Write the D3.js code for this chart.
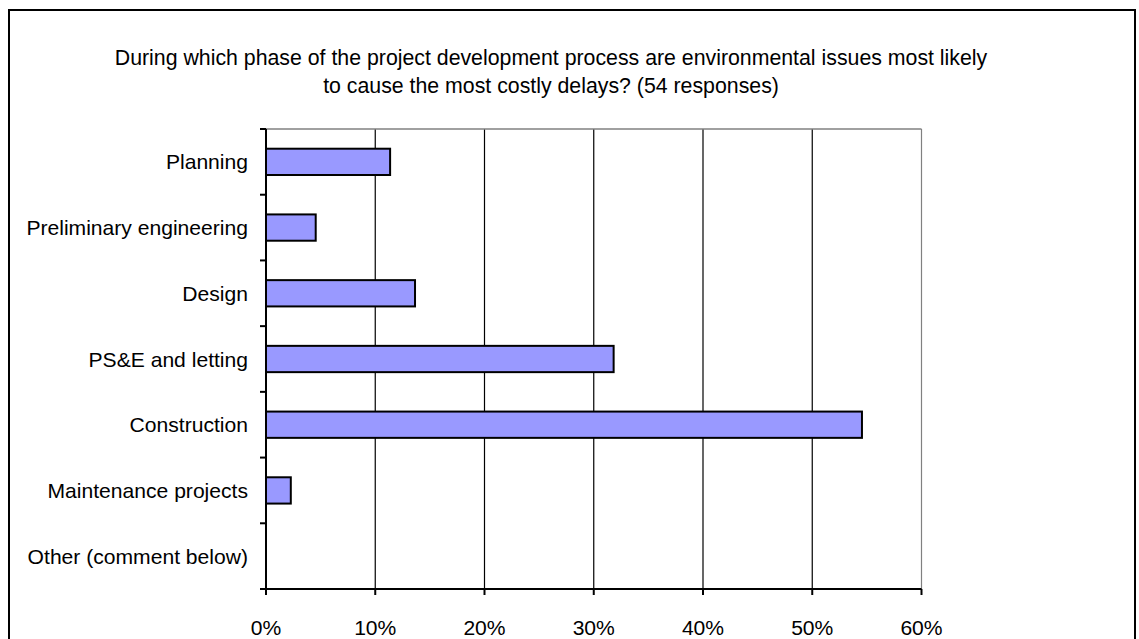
<!DOCTYPE html>
<html>
<head>
<meta charset="utf-8">
<script src="https://cdn.jsdelivr.net/npm/d3@7"></script>
<style>
  body { margin: 0; background: #fff; }
  svg { display: block; font-family: "Liberation Sans", Arial, sans-serif; }
</style>
</head>
<body>
<svg width="1139" height="639"></svg>
<script>
var categories = ["Planning", "Preliminary engineering", "Design", "PS&E and letting",
                  "Construction", "Maintenance projects", "Other (comment below)"];
var shares = [11.36, 4.55, 13.64, 31.82, 54.55, 2.27, 0];
var tickValues = [0, 10, 20, 30, 40, 50, 60];
var titleLines = ["During which phase of the project development process are environmental issues most likely",
                  "to cause the most costly delays? (54 responses)"];

var data = categories.map(function(c, i) { return {name: c, value: shares[i]}; });

var svg = d3.select("svg");
var m = {left: 266, right: 921.5, top: 129, bottom: 589};

// outer frame, bottom edge runs off the picture
svg.append("rect")
    .attr("x", 9).attr("y", 10)
    .attr("width", 1126).attr("height", 700)
    .attr("fill", "none").attr("stroke", "#000").attr("stroke-width", 2);

var title = svg.append("text")
    .attr("text-anchor", "middle")
    .style("font-size", "21.3px")
    .attr("fill", "#000");
title.selectAll("tspan").data(titleLines).enter().append("tspan")
    .attr("x", 551)
    .attr("y", function(d, i) { return 65 + i * 28; })
    .text(function(d) { return d; });

var x = d3.scaleLinear().domain([0, 60]).range([m.left, m.right]);
var y = d3.scaleBand().domain(categories).range([m.top, m.bottom]).paddingInner(0.6).paddingOuter(0.3);
var yb = d3.scaleBand().domain(categories).range([m.top, m.bottom]);

// grid
svg.append("g").selectAll("line").data(tickValues.filter(function(t) { return t > 0; }))
    .enter().append("line")
    .attr("x1", function(d) { return x(d); }).attr("x2", function(d) { return x(d); })
    .attr("y1", m.top).attr("y2", m.bottom)
    .attr("stroke", function(d) { return d === 60 ? "#808080" : "#000"; })
    .attr("stroke-width", 1.2);
svg.append("line")
    .attr("x1", m.left).attr("x2", m.right)
    .attr("y1", m.top).attr("y2", m.top)
    .attr("stroke", "#808080").attr("stroke-width", 1.5);

// bars
svg.append("g").selectAll("rect").data(data.filter(function(d) { return d.value > 0; }))
    .enter().append("rect")
    .attr("x", x(0))
    .attr("y", function(d) { return y(d.name); })
    .attr("width", function(d) { return x(d.value) - x(0); })
    .attr("height", y.bandwidth())
    .attr("fill", "#9999ff")
    .attr("stroke", "#000")
    .attr("stroke-width", 2);

// y axis
var ya = svg.append("g");
ya.append("line")
    .attr("x1", m.left).attr("x2", m.left)
    .attr("y1", m.top).attr("y2", m.bottom)
    .attr("stroke", "#000").attr("stroke-width", 2);
ya.selectAll("line.tk").data(categories.concat(["end"]))
    .enter().append("line").attr("class", "tk")
    .attr("x1", m.left - 6).attr("x2", m.left)
    .attr("y1", function(d, i) { return i < categories.length ? yb(d) : m.bottom; })
    .attr("y2", function(d, i) { return i < categories.length ? yb(d) : m.bottom; })
    .attr("stroke", "#000").attr("stroke-width", 2);
ya.selectAll("text").data(categories)
    .enter().append("text")
    .attr("x", 248)
    .attr("y", function(d) { return yb(d) + yb.bandwidth() / 2; })
    .attr("dy", "0.36em")
    .attr("text-anchor", "end")
    .style("font-size", "21.1px")
    .text(function(d) { return d; });

// x axis
var xa = svg.append("g");
xa.append("line")
    .attr("x1", m.left - 6).attr("x2", m.right)
    .attr("y1", m.bottom).attr("y2", m.bottom)
    .attr("stroke", "#000").attr("stroke-width", 2);
xa.selectAll("line.tk").data(tickValues)
    .enter().append("line").attr("class", "tk")
    .attr("x1", function(d) { return x(d); }).attr("x2", function(d) { return x(d); })
    .attr("y1", m.bottom).attr("y2", m.bottom + 6)
    .attr("stroke", "#000").attr("stroke-width", 2);
xa.selectAll("text").data(tickValues)
    .enter().append("text")
    .attr("x", function(d) { return x(d); })
    .attr("y", 635)
    .attr("text-anchor", "middle")
    .style("font-size", "21.1px")
    .text(function(d) { return d + "%"; });
</script>
</body>
</html>
